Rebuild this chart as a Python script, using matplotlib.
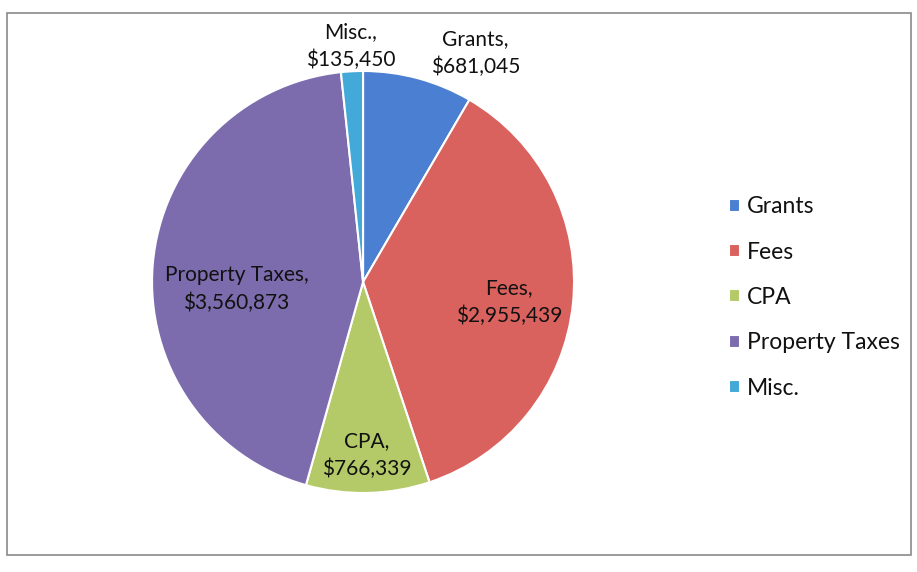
import matplotlib.pyplot as plt
from matplotlib.patches import Rectangle
import numpy as np

# revenue sources
categories = ['Grants', 'Fees', 'CPA', 'Property Taxes', 'Misc.']
amounts = [681045, 2955439, 766339, 3560873, 135450]
colors = ['#4a7fd2', '#da625e', '#b4ca68', '#7c6cae', '#43a9d8']

# label placement (radius, angle shift in deg) for each slice
label_pos = [(1.21, -11), (0.70, -2), (0.82, 0), (0.60, 8), (1.12, 0)]

plt.rcParams['font.family'] = ['Lato', 'DejaVu Sans']

fig = plt.figure(figsize=(9.17, 5.72), dpi=100)
fig.patches.append(Rectangle((0.008, 0.03), 0.986, 0.948, transform=fig.transFigure,
                             fill=False, edgecolor='#8a8a8a', linewidth=1.2))

ax = fig.add_axes([0.1658, 0.1381, 0.4602, 0.7378])
wedges, _ = ax.pie(amounts, colors=colors, startangle=90, counterclock=False,
                   radius=1, wedgeprops=dict(edgecolor='white', linewidth=1.5))
ax.set_xlim(-1, 1)
ax.set_ylim(-1, 1)
ax.set_aspect('equal')

for w, name, val, (r, shift) in zip(wedges, categories, amounts, label_pos):
    ang = np.deg2rad((w.theta1 + w.theta2) / 2 + shift)
    ax.text(r * np.cos(ang), r * np.sin(ang), f'{name},\n${val:,}',
            ha='center', va='center', fontsize=15, color='#111111', linespacing=1.45)

leg = fig.legend(wedges, categories, loc='center left', bbox_to_anchor=(0.772, 0.48),
                 frameon=False, fontsize=16.5, handlelength=0.5, handleheight=0.5,
                 handletextpad=0.3, labelspacing=1.06)
for t in leg.get_texts():
    t.set_color('#111111')

fig.savefig('out.png', dpi=100)
